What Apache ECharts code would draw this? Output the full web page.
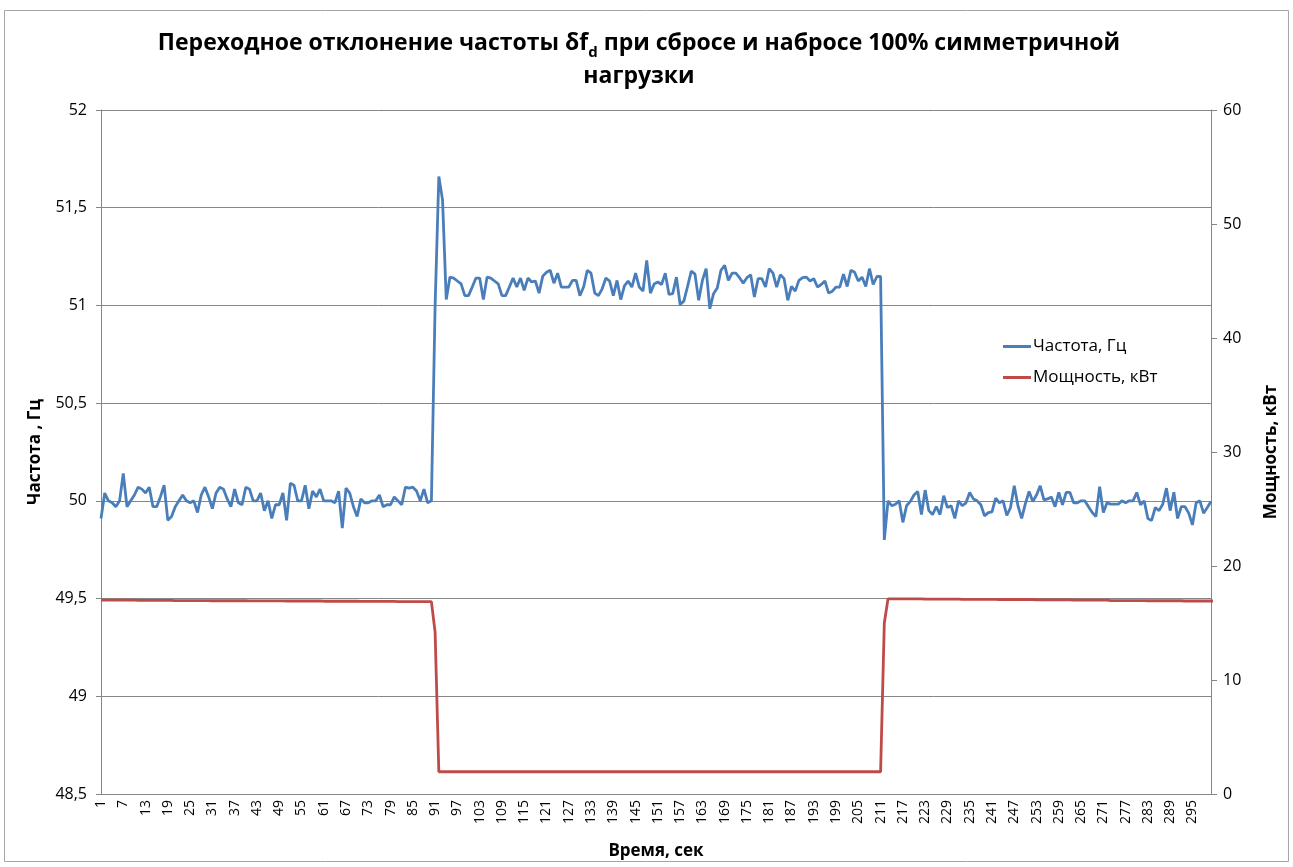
<!DOCTYPE html>
<html>
<head>
<meta charset="utf-8">
<script src="https://cdn.jsdelivr.net/npm/echarts@6/dist/echarts.min.js"></script>
<style>
  html, body { margin: 0; padding: 0; background: #fff; }
  #chart { width: 1293px; height: 867px; }
</style>
</head>
<body>
<div id="chart"></div>
<script>
// частота до сброса нагрузки (1..90 с)
const freqBefore = [
  49.91, 50.04, 50.0, 49.99, 49.97, 50.0, 50.14, 49.97, 50.0, 50.03,
  50.07, 50.06, 50.04, 50.07, 49.97, 49.97, 50.02, 50.08, 49.9, 49.92,
  49.97, 50.0, 50.03, 50.0, 49.99, 50.0, 49.94, 50.03, 50.07, 50.02,
  49.96, 50.04, 50.07, 50.06, 50.01, 49.97, 50.06, 49.99, 49.98, 50.07,
  50.06, 50.0, 50.0, 50.04, 49.95, 50.0, 49.91, 49.98, 49.98, 50.04,
  49.9, 50.09, 50.08, 50.0, 50.0, 50.08, 49.96, 50.05, 50.02, 50.06,
  50.0, 50.0, 50.0, 49.99, 50.05, 49.86, 50.065, 50.04, 49.97, 49.92,
  50.01, 49.99, 49.99, 50.0, 50.0, 50.03, 49.97, 49.98, 49.98, 50.02,
  50.0, 49.98, 50.07, 50.065, 50.07, 50.05, 50.0, 50.06, 49.99, 50.0
];
// частота после сброса (91..211 с)
const freqUnloaded = [
  51.0, 51.66, 51.54, 51.03, 51.145, 51.14, 51.125, 51.11, 51.05, 51.05,
  51.094, 51.14, 51.14, 51.03, 51.145, 51.14, 51.125, 51.11, 51.05, 51.05,
  51.094, 51.14, 51.094, 51.14, 51.077, 51.14, 51.12, 51.125, 51.063, 51.15,
  51.17, 51.18, 51.114, 51.165, 51.094, 51.094, 51.094, 51.128, 51.128, 51.05,
  51.094, 51.18, 51.165, 51.063, 51.05, 51.085, 51.14, 51.125, 51.05, 51.128,
  51.03, 51.10, 51.125, 51.094, 51.165, 51.094, 51.073, 51.23, 51.063, 51.11,
  51.12, 51.107, 51.165, 51.056, 51.06, 51.145, 51.005, 51.022, 51.097, 51.176,
  51.16, 51.026, 51.128, 51.188, 50.983, 51.06, 51.089, 51.18, 51.205, 51.128,
  51.165, 51.165, 51.142, 51.114, 51.142, 51.157, 51.043, 51.137, 51.137, 51.094,
  51.188, 51.165, 51.094, 51.157, 51.137, 51.026, 51.097, 51.073, 51.128, 51.142,
  51.145, 51.125, 51.137, 51.094, 51.107, 51.125, 51.063, 51.073, 51.094, 51.094,
  51.16, 51.097, 51.18, 51.17, 51.125, 51.145, 51.097, 51.188, 51.107, 51.148, 51.148
];
// частота после наброса (212..300 с)
const freqAfter = [
  49.80, 50.0, 49.975, 49.983, 50.0, 49.89, 49.975, 49.997, 50.03,
  50.048, 49.93, 50.055, 49.95, 49.93, 49.97, 49.93, 50.026, 49.966, 49.975,
  49.91, 50.0, 49.975, 49.99, 50.043, 50.01, 50.0, 49.98, 49.923, 49.94,
  49.944, 50.014, 49.99, 50.0, 49.925, 49.966, 50.077, 49.975, 49.91, 49.986,
  50.048, 49.997, 50.03, 50.077, 50.005, 50.01, 50.02, 49.97, 50.043, 49.98,
  50.043, 50.043, 49.99, 49.99, 50.0, 50.0, 49.97, 49.94, 49.92, 50.073,
  49.94, 49.99, 49.983, 49.983, 49.983, 50.0, 49.99, 50.0, 50.0, 50.043,
  49.98, 50.0, 49.91, 49.9, 49.966, 49.95, 49.983, 50.065, 49.95, 50.044,
  49.91, 49.97, 49.97, 49.937, 49.877, 49.99, 50.0, 49.937, 49.966, 49.997
];

// мощность, кВт
const powerBefore = [
  17.0, 17.0, 17.0, 17.0, 17.0, 17.0, 17.0, 17.0, 17.0, 17.0,
  16.98, 16.98, 16.98, 16.98, 16.98, 16.98, 16.98, 16.98, 16.98, 16.98,
  16.97, 16.97, 16.97, 16.97, 16.97, 16.97, 16.97, 16.97, 16.97, 16.97,
  16.95, 16.95, 16.95, 16.95, 16.95, 16.95, 16.95, 16.95, 16.95, 16.95,
  16.94, 16.94, 16.94, 16.94, 16.94, 16.94, 16.94, 16.94, 16.94, 16.94,
  16.93, 16.93, 16.93, 16.93, 16.93, 16.93, 16.93, 16.93, 16.93, 16.93,
  16.91, 16.91, 16.91, 16.91, 16.91, 16.91, 16.91, 16.91, 16.91, 16.91,
  16.9, 16.9, 16.9, 16.9, 16.9, 16.9, 16.9, 16.9, 16.9, 16.9,
  16.88, 16.88, 16.88, 16.88, 16.88, 16.88, 16.88, 16.88, 16.88, 16.88
];
const powerUnloaded = [
  14.2,
  1.95, 1.95, 1.95, 1.95, 1.95, 1.95, 1.95, 1.95, 1.95, 1.95,
  1.95, 1.95, 1.95, 1.95, 1.95, 1.95, 1.95, 1.95, 1.95, 1.95,
  1.95, 1.95, 1.95, 1.95, 1.95, 1.95, 1.95, 1.95, 1.95, 1.95,
  1.95, 1.95, 1.95, 1.95, 1.95, 1.95, 1.95, 1.95, 1.95, 1.95,
  1.95, 1.95, 1.95, 1.95, 1.95, 1.95, 1.95, 1.95, 1.95, 1.95,
  1.95, 1.95, 1.95, 1.95, 1.95, 1.95, 1.95, 1.95, 1.95, 1.95,
  1.95, 1.95, 1.95, 1.95, 1.95, 1.95, 1.95, 1.95, 1.95, 1.95,
  1.95, 1.95, 1.95, 1.95, 1.95, 1.95, 1.95, 1.95, 1.95, 1.95,
  1.95, 1.95, 1.95, 1.95, 1.95, 1.95, 1.95, 1.95, 1.95, 1.95,
  1.95, 1.95, 1.95, 1.95, 1.95, 1.95, 1.95, 1.95, 1.95, 1.95,
  1.95, 1.95, 1.95, 1.95, 1.95, 1.95, 1.95, 1.95, 1.95, 1.95,
  1.95, 1.95, 1.95, 1.95, 1.95, 1.95, 1.95, 1.95, 1.95, 1.95
];
const powerAfter = [
  15.0,
  17.12, 17.12, 17.12, 17.12, 17.12, 17.12, 17.12, 17.12, 17.12, 17.12,
  17.1, 17.1, 17.1, 17.1, 17.1, 17.1, 17.1, 17.1, 17.1, 17.1,
  17.08, 17.08, 17.08, 17.08, 17.08, 17.08, 17.08, 17.08, 17.08, 17.08,
  17.06, 17.06, 17.06, 17.06, 17.06, 17.06, 17.06, 17.06, 17.06, 17.06,
  17.03, 17.03, 17.03, 17.03, 17.03, 17.03, 17.03, 17.03, 17.03, 17.03,
  17.0, 17.0, 17.0, 17.0, 17.0, 17.0, 17.0, 17.0, 17.0, 17.0,
  16.97, 16.97, 16.97, 16.97, 16.97, 16.97, 16.97, 16.97, 16.97, 16.97,
  16.95, 16.95, 16.95, 16.95, 16.95, 16.95, 16.95, 16.95, 16.95, 16.95,
  16.93, 16.93, 16.93, 16.93, 16.93, 16.93, 16.93, 16.93, 16.93
];

const freq = freqBefore.concat(freqUnloaded, freqAfter);
const power = powerBefore.concat(powerUnloaded, powerAfter);
const seconds = freq.map((_, i) => String(i + 1));

const FONT = '"Open Sans", "Noto Sans", sans-serif';
const gray = '#868686';

const chart = echarts.init(document.getElementById('chart'), null, { renderer: 'canvas' });

chart.setOption({
  backgroundColor: '#fff',
  animation: false,
  graphic: [{
    type: 'rect',
    shape: { x: 4.5, y: 10.5, width: 1284, height: 851 },
    style: { fill: 'none', stroke: '#a6a6a6', lineWidth: 1 }
  }],
  title: {
    left: 634,
    top: 22,
    textAlign: 'center',
    text: '{a|Переходное отклонение частоты δf}{s|d}{a| при сбросе и набросе 100% симметричной}\n{a|нагрузки}',
    textStyle: {
      rich: {
        a: { fontFamily: FONT, fontSize: 23, fontWeight: 'bold', color: '#000', lineHeight: 33 },
        s: { fontFamily: FONT, fontSize: 15, fontWeight: 'bold', color: '#000', lineHeight: 33, verticalAlign: 'bottom', padding: [10, 0, 0, 0] }
      }
    }
  },
  legend: {
    orient: 'vertical',
    left: 998,
    top: 333,
    itemGap: 14,
    itemWidth: 28,
    itemHeight: 3,
    icon: 'rect',
    textStyle: { fontFamily: FONT, fontSize: 17, color: '#000', padding: [0, 0, 0, -3] },
    data: ['Частота, Гц', 'Мощность, кВт']
  },
  grid: { left: 101, right: 82, top: 110, bottom: 73 },
  xAxis: {
    type: 'category',
    data: seconds,
    boundaryGap: false,
    name: 'Время, сек',
    nameLocation: 'middle',
    nameGap: 49,
    nameTextStyle: { fontFamily: FONT, fontSize: 17, fontWeight: 'bold', color: '#000' },
    axisLine: { lineStyle: { color: gray } },
    axisTick: { show: false },
    axisLabel: {
      interval: 5,
      rotate: 90,
      margin: 6,
      fontFamily: FONT,
      fontSize: 14,
      color: '#000'
    },
    splitLine: { show: false }
  },
  yAxis: [{
    type: 'value',
    min: 48.5,
    max: 52,
    interval: 0.5,
    name: 'Частота , Гц',
    nameLocation: 'middle',
    nameRotate: 90,
    nameGap: 57,
    nameTextStyle: { fontFamily: FONT, fontSize: 17, fontWeight: 'bold', color: '#000' },
    axisLine: { show: true, lineStyle: { color: gray } },
    axisTick: { show: true, length: 5, lineStyle: { color: gray } },
    axisLabel: {
      fontFamily: FONT,
      fontSize: 16,
      color: '#000',
      margin: 14,
      formatter: v => String(v).replace('.', ',')
    },
    splitLine: { lineStyle: { color: gray, width: 1 } }
  }, {
    type: 'value',
    min: 0,
    max: 60,
    interval: 10,
    position: 'right',
    name: 'Мощность, кВт',
    nameLocation: 'middle',
    nameRotate: 90,
    nameGap: 52,
    nameTextStyle: { fontFamily: FONT, fontSize: 17, fontWeight: 'bold', color: '#000' },
    axisLine: { show: true, lineStyle: { color: gray } },
    axisTick: { show: true, length: 6, lineStyle: { color: gray } },
    axisLabel: { fontFamily: FONT, fontSize: 16, color: '#000', margin: 12 },
    splitLine: { show: false }
  }],
  series: [{
    name: 'Частота, Гц',
    type: 'line',
    data: freq,
    yAxisIndex: 0,
    symbol: 'none',
    lineStyle: { color: '#4a7ebb', width: 2.8 },
    itemStyle: { color: '#4a7ebb' }
  }, {
    name: 'Мощность, кВт',
    type: 'line',
    data: power,
    yAxisIndex: 1,
    symbol: 'none',
    lineStyle: { color: '#be4b48', width: 2.8 },
    itemStyle: { color: '#be4b48' }
  }]
});
</script>
</body>
</html>
